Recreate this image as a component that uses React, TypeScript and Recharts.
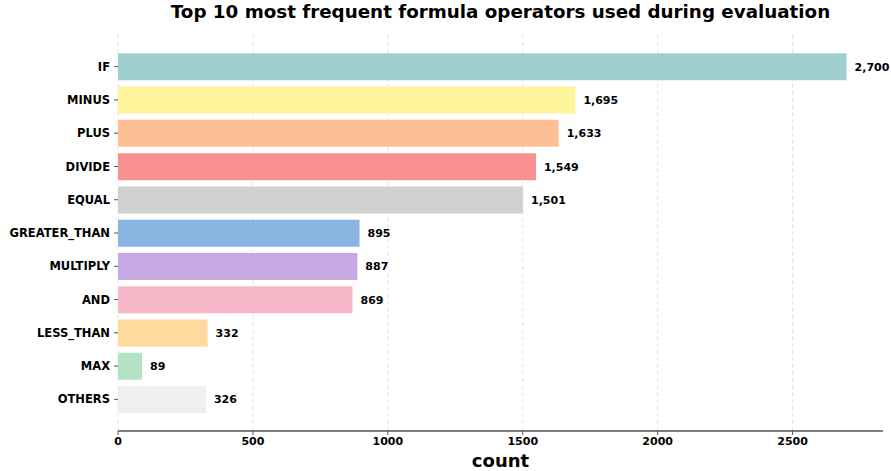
import React from 'react';
import { BarChart, Bar, XAxis, YAxis, CartesianGrid, Cell, LabelList } from 'recharts';

const operators = ['IF', 'MINUS', 'PLUS', 'DIVIDE', 'EQUAL', 'GREATER_THAN', 'MULTIPLY', 'AND', 'LESS_THAN', 'MAX', 'OTHERS'];
const counts = [2700, 1695, 1633, 1549, 1501, 895, 887, 869, 332, 89, 326];
const colors = ['#9fd0cf', '#fef49c', '#ffbf94', '#fa9191', '#d1d1d1', '#8ab4e2', '#c6a9e3', '#f7b9c9', '#ffda9e', '#b3e3c5', '#efefef'];
const xTicks = [0, 500, 1000, 1500, 2000, 2500];

const data = operators.map((op, i) => ({ op, count: counts[i] }));

const font = 'DejaVu Sans, sans-serif';

const App: React.FC = () => {
  return (
    <div style={{ position: 'absolute', left: 0, top: 0, width: 891, height: 471, fontFamily: font }}>
      <div
        style={{
          position: 'absolute',
          left: 118,
          width: 765,
          top: 1,
          textAlign: 'center',
          fontSize: 18.3,
          fontWeight: 'bold',
          color: '#000',
        }}
      >
        Top 10 most frequent formula operators used during evaluation
      </div>
      <BarChart
        width={891}
        height={471}
        data={data}
        layout="vertical"
        margin={{ top: 35, right: 8, left: 0, bottom: 0 }}
        barCategoryGap="10%"
      >
        <CartesianGrid horizontal={false} strokeDasharray="4 3" stroke="#e2e2e2" verticalValues={xTicks} />
        <XAxis
          type="number"
          domain={[0, 2835]}
          ticks={xTicks}
          height={40}
          axisLine={{ stroke: '#555', strokeWidth: 1.5 }}
          tickLine={{ stroke: '#555' }}
          tickSize={4}
          tick={{ fill: '#000', fontSize: 11, fontWeight: 'bold', fontFamily: font }}
          label={{ value: 'count', position: 'insideBottom', offset: 4, fill: '#000', fontSize: 18, fontWeight: 'bold', fontFamily: font }}
        />
        <YAxis
          type="category"
          dataKey="op"
          width={118}
          padding={{ top: 15, bottom: 15 }}
          axisLine={false}
          tickLine={{ stroke: '#555' }}
          tickSize={4}
          tickMargin={4}
          tick={{ fill: '#000', fontSize: 11.5, fontWeight: 'bold', fontFamily: font }}
        />
        <Bar dataKey="count" isAnimationActive={false}>
          {data.map((d, i) => (
            <Cell key={d.op} fill={colors[i]} />
          ))}
          <LabelList
            dataKey="count"
            position="right"
            offset={8}
            fill="#000"
            fontSize={11}
            fontWeight="bold"
            fontFamily={font}
            formatter={(v: any) => Number(v).toLocaleString('en-US')}
          />
        </Bar>
      </BarChart>
    </div>
  );
};

export default App;
